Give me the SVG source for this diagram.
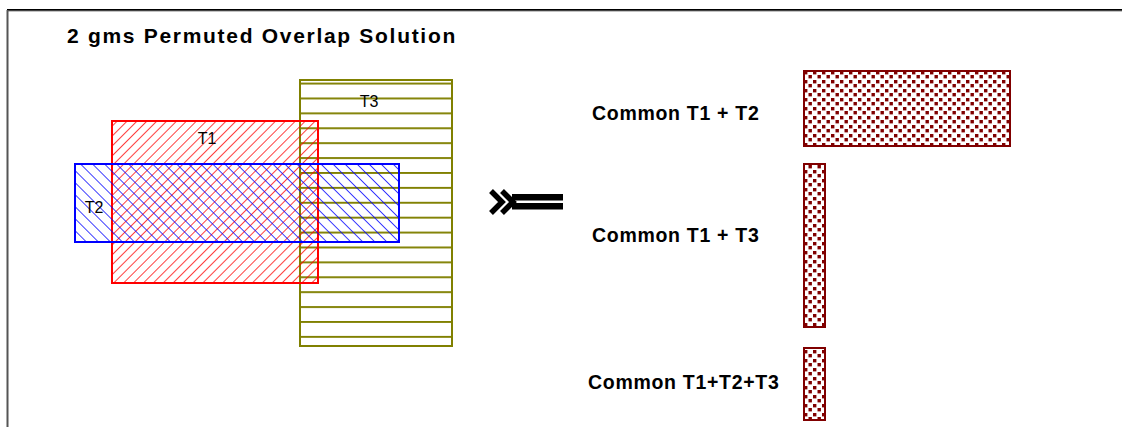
<svg xmlns="http://www.w3.org/2000/svg" width="1122" height="427" viewBox="0 0 1122 427">
<style>
.lbl{font-family:"Liberation Sans",Arial,sans-serif;font-weight:bold;font-size:19.5px;fill:#000;letter-spacing:0.7px}
.title{font-family:"Liberation Sans",Arial,sans-serif;font-weight:bold;font-size:21px;fill:#000;letter-spacing:1.7px}
.tl{font-family:"Liberation Sans",Arial,sans-serif;font-size:16px;fill:#000;text-anchor:middle}
.dotbox{fill:url(#dots);stroke:#800000;stroke-width:2}
</style>
<defs>
<pattern id="hRed" patternUnits="userSpaceOnUse" width="7" height="7" patternTransform="rotate(45)">
<line x1="0" y1="0" x2="0" y2="7" stroke="#ff0000" stroke-width="1.5"/>
</pattern>
<pattern id="hBlue" patternUnits="userSpaceOnUse" width="8.5" height="8.5" patternTransform="rotate(-45)">
<line x1="0" y1="0" x2="0" y2="8.5" stroke="#0000ff" stroke-width="1.5"/>
</pattern>
<pattern id="hOlive" patternUnits="userSpaceOnUse" x="0" y="82.6" width="20" height="14.9">
<rect x="0" y="0" width="20" height="1.9" fill="#808000"/>
</pattern>
<pattern id="dots" patternUnits="userSpaceOnUse" x="803" y="70" width="9" height="9">
<rect width="9" height="9" fill="#fff"/>
<rect x="1" y="1" width="3.4" height="3.4" fill="#800000"/>
<rect x="5.5" y="5" width="3.4" height="3.4" fill="#800000"/>
</pattern>
</defs>
<rect width="1122" height="427" fill="#fff"/>
<g id="frame">
<line x1="7" y1="10" x2="1122" y2="10" stroke="#000" stroke-width="2"/>
<line x1="7" y1="11" x2="1122" y2="11" stroke="#888" stroke-width="1"/>
<line x1="7.5" y1="10" x2="7.5" y2="427" stroke="#555" stroke-width="2"/>
</g>
<text class="title" x="67" y="43">2 gms Permuted Overlap Solution</text>
<g id="T3">
<rect x="300" y="80" width="152" height="266" fill="url(#hOlive)" stroke="#808000" stroke-width="2"/>
<text class="tl" x="369" y="107">T3</text>
</g>
<g id="T1">
<rect x="112" y="121" width="206" height="162" fill="url(#hRed)" stroke="#ff0000" stroke-width="2"/>
<text class="tl" x="207" y="144">T1</text>
</g>
<g id="T2">
<rect x="75" y="164" width="324" height="78" fill="url(#hBlue)" stroke="#0000ff" stroke-width="2"/>
<text class="tl" x="94" y="213">T2</text>
</g>
<g id="connectors">
<g id="arrow" fill="none" stroke="#000">
<polyline points="491,191 502,202 491,213" stroke-width="5.5"/>
<polyline points="502,191 513,202 502,213" stroke-width="5.5"/>
<rect x="512" y="194" width="51" height="6.5" fill="#000" stroke="none"/>
<rect x="512" y="203" width="51" height="6.5" fill="#000" stroke="none"/>
</g>
</g>
<g id="common12">
<text class="lbl" x="592" y="120">Common T1 + T2</text>
<rect class="dotbox" x="804" y="71" width="206" height="75"/>
</g>
<g id="common13">
<text class="lbl" x="592" y="242">Common T1 + T3</text>
<rect class="dotbox" x="804" y="164" width="21" height="163"/>
</g>
<g id="common123">
<text class="lbl" x="588" y="389">Common T1+T2+T3</text>
<rect class="dotbox" x="804" y="348" width="21" height="72"/>
</g>
</svg>
